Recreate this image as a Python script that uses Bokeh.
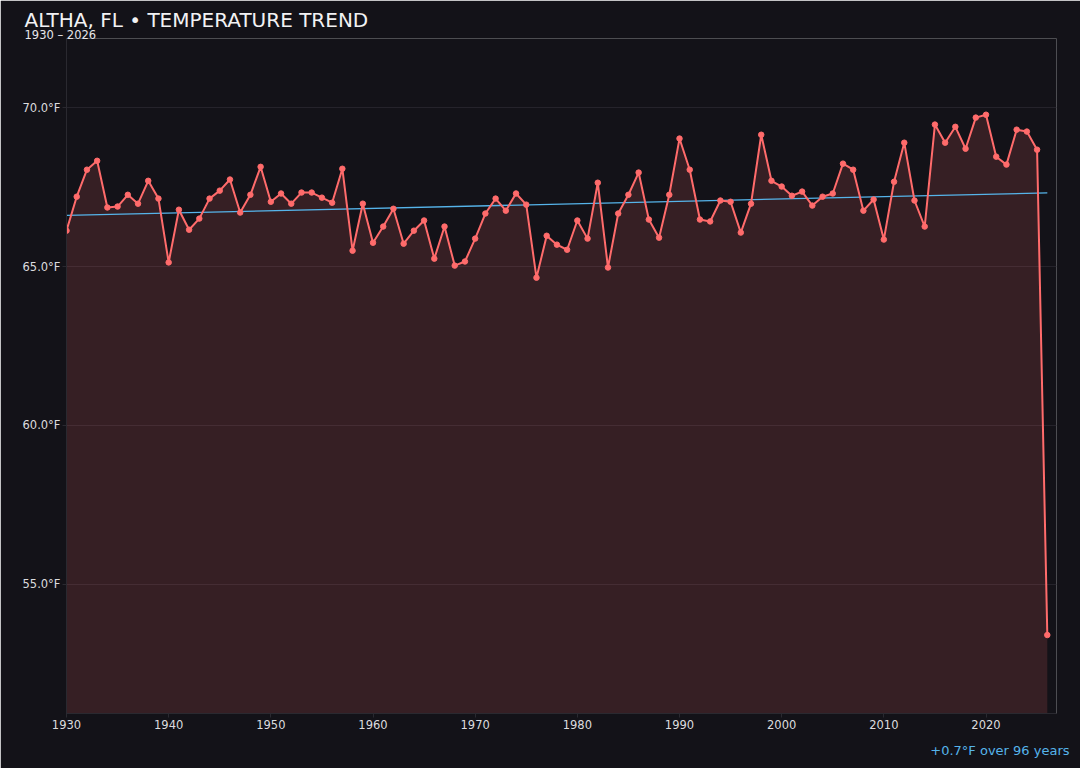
from bokeh.plotting import figure
from bokeh.models import Range1d, FixedTicker, PrintfTickFormatter, Title
from bokeh.embed import file_html
from bokeh.resources import INLINE

# ---- data ----
years = list(range(1930, 2027))
temps = [
    66.13, 67.20, 68.05, 68.33, 66.86, 66.89, 67.26, 66.98, 67.70, 67.14,  # 1930s
    65.13, 66.79, 66.16, 66.51, 67.14, 67.39, 67.74, 66.70, 67.26, 68.14,  # 1940s
    67.04, 67.30, 66.98, 67.33, 67.33, 67.17, 67.01, 68.08, 65.50, 66.98,  # 1950s
    65.75, 66.26, 66.82, 65.72, 66.13, 66.45, 65.25, 66.26, 65.03, 65.16,  # 1960s
    65.88, 66.67, 67.14, 66.76, 67.30, 66.95, 64.65, 65.97, 65.69, 65.53,  # 1970s
    66.45, 65.88, 67.64, 64.97, 66.67, 67.26, 67.96, 66.48, 65.91, 67.26,  # 1980s
    69.03, 68.05, 66.48, 66.42, 67.08, 67.04, 66.07, 66.98, 69.15, 67.70,  # 1990s
    67.52, 67.23, 67.36, 66.92, 67.20, 67.30, 68.24, 68.05, 66.76, 67.11,  # 2000s
    65.85, 67.67, 68.90, 67.08, 66.26, 69.47, 68.90, 69.40, 68.71, 69.69,  # 2010s
    69.78, 68.46, 68.21, 69.31, 69.25, 68.68, 53.40,                       # 2020s
]
trend_years = [1930, 2026]
trend_values = [66.61, 67.32]
y_ticks = [55, 60, 65, 70]
x_ticks = [1930, 1940, 1950, 1960, 1970, 1980, 1990, 2000, 2010, 2020]

title_text = "ALTHA, FL \u2022 TEMPERATURE TREND"
subtitle_text = "1930 \u2013 2026"
note_text = "+0.7\u00b0F over 96 years"

# ---- styles ----
BG = "#131218"
LINE = "#ff6b6b"
TREND = "#56b4ea"
TXT = "#dcdcdf"
FONT = "DejaVu Sans"

y_min, y_max = 50.93, 72.18

p = figure(
    width=1080, height=768,
    x_range=Range1d(1930, 2026.9), y_range=Range1d(y_min, y_max),
    output_backend="svg", toolbar_location=None,
    min_border_left=66, min_border_right=24, min_border_top=38, min_border_bottom=55,
    background_fill_color=BG, border_fill_color=BG,
)
p.outline_line_color = None
p.outline_line_alpha = 0

# main title (outer) and subtitle (closest to frame)
p.title.text = title_text
p.title.align = "left"
p.title.offset = -42
p.title.text_font = FONT
p.title.text_font_size = "20px"
p.title.text_font_style = "normal"
p.title.text_color = "#f2f2f4"
p.title.standoff = -4.4
p.title.vertical_align = "bottom"

subtitle = Title(text=subtitle_text, align="left", offset=-42, text_font=FONT,
                 text_font_size="11.5px", text_font_style="normal",
                 text_color="#e6e6ea", standoff=-7.4, vertical_align="bottom")
p.add_layout(subtitle, "above")

note = Title(text=note_text, align="right", offset=-13, text_font=FONT,
             text_font_size="13px", text_font_style="normal",
             text_color=TREND, standoff=18, vertical_align="bottom")
p.add_layout(note, "below")

p.varea(x=years, y1=[y_min] * len(years), y2=temps, fill_color=LINE, fill_alpha=0.15)
p.line(x=trend_years, y=trend_values, line_color=TREND, line_width=1.3)
p.line(x=years, y=temps, line_color=LINE, line_width=2)
p.scatter(x=years, y=temps, size=5.5, fill_color=LINE, line_color=LINE)

p.xgrid.visible = False
p.ygrid.grid_line_color = "#25232b"
p.ygrid.grid_line_width = 1
p.ygrid.ticker = FixedTicker(ticks=y_ticks)

p.yaxis.ticker = FixedTicker(ticks=y_ticks)
p.yaxis.formatter = PrintfTickFormatter(format="%.1f\u00b0F")
p.xaxis.ticker = FixedTicker(ticks=x_ticks)

for ax in (p.xaxis, p.yaxis):
    ax.axis_line_color = "#2a2930"
    ax.major_tick_line_color = "#2a2930"
    ax.minor_tick_line_color = None
    ax.major_tick_in = 0
    ax.major_tick_out = 4
    ax.major_label_standoff = 2
    ax.major_label_text_color = TXT
    ax.major_label_text_font = FONT
    ax.major_label_text_font_size = "11.5px"

html = file_html(p, INLINE)
html = html.replace("<body>", '<body style="background:%s">' % BG, 1)
open("out.html", "w").write(html)
